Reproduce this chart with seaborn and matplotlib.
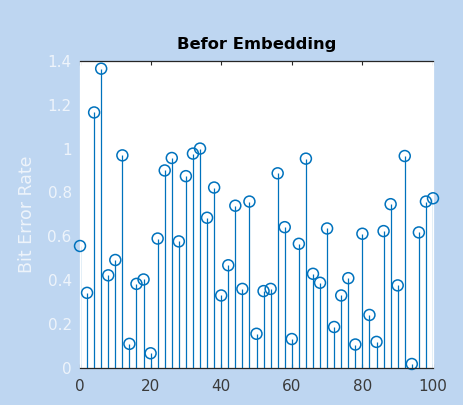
import numpy as np
import pandas as pd
import matplotlib
matplotlib.use("Agg")
import matplotlib.pyplot as plt
import seaborn as sns

# ---- data ----
sample_index = list(range(0, 101, 2))
bit_error_rate = [0.555, 0.341, 1.165, 1.365, 0.421, 0.491, 0.969, 0.108, 0.382, 0.402,
                  0.065, 0.589, 0.900, 0.957, 0.576, 0.874, 0.977, 1.000, 0.684, 0.822,
                  0.329, 0.467, 0.739, 0.359, 0.758, 0.154, 0.349, 0.359, 0.887, 0.641,
                  0.130, 0.565, 0.954, 0.428, 0.387, 0.635, 0.185, 0.329, 0.408, 0.105,
                  0.611, 0.240, 0.117, 0.623, 0.746, 0.375, 0.966, 0.016, 0.617, 0.758,
                  0.773]
x_ticks = [0, 20, 40, 60, 80, 100]
y_ticks = [0, 0.2, 0.4, 0.6, 0.8, 1.0, 1.2, 1.4]
y_tick_labels = ["0", "0.2", "0.4", "0.6", "0.8", "1", "1.2", "1.4"]
title_text = "Befor Embedding"
y_label = "Bit Error Rate"

df = pd.DataFrame({"x": sample_index, "ber": bit_error_rate})

sns.set_style("white")
plt.rcParams['font.family'] = ['DejaVu Sans']

BG = "#BED6F1"
STEM = "#0072BD"
DARK = "#262626"
LIGHT = "#EEF4FB"

fig = plt.figure(figsize=(4.63, 4.05), dpi=100, facecolor=BG)
ax = fig.add_axes([80 / 463, 1 - 367.5 / 405, 353 / 463, (367.5 - 61) / 405])
ax.set_facecolor("white")

ax.vlines(df["x"], 0, df["ber"], color=STEM, linewidth=0.9, zorder=2)
sns.scatterplot(data=df, x="x", y="ber", ax=ax, marker="o", s=62,
                facecolors="none", edgecolor=STEM, linewidth=1.1,
                clip_on=False, zorder=3, legend=False)

ax.set_xlim(0, 100)
ax.set_ylim(0, 1.4)
ax.set_xticks(x_ticks)
ax.set_xticklabels([str(t) for t in x_ticks])
ax.set_yticks(y_ticks)
ax.set_yticklabels(y_tick_labels)

ax.set_xlabel("")
ax.set_ylabel(y_label, fontsize=12.5, color=LIGHT)
ax.yaxis.set_label_coords(-0.125, 0.5)

ax.set_title(title_text, fontsize=11.8, fontweight="bold", color="black", pad=8.5)

ax.tick_params(axis="x", direction="in", length=3, width=0.8, colors=DARK,
               labelsize=11, pad=8, top=True, bottom=True, labelcolor="#3a3a3a")
ax.tick_params(axis="y", direction="in", length=3, width=0.8, colors="white",
               labelsize=11, pad=6, left=True, right=True, labelcolor=LIGHT)

for side in ["top", "bottom"]:
    ax.spines[side].set_visible(True)
    ax.spines[side].set_color(DARK)
    ax.spines[side].set_linewidth(0.9)
for side in ["left", "right"]:
    ax.spines[side].set_visible(True)
    ax.spines[side].set_color("white")
    ax.spines[side].set_linewidth(0.9)
ax.spines["bottom"].set_zorder(4)

fig.savefig("out.png", dpi=100, facecolor=BG)
